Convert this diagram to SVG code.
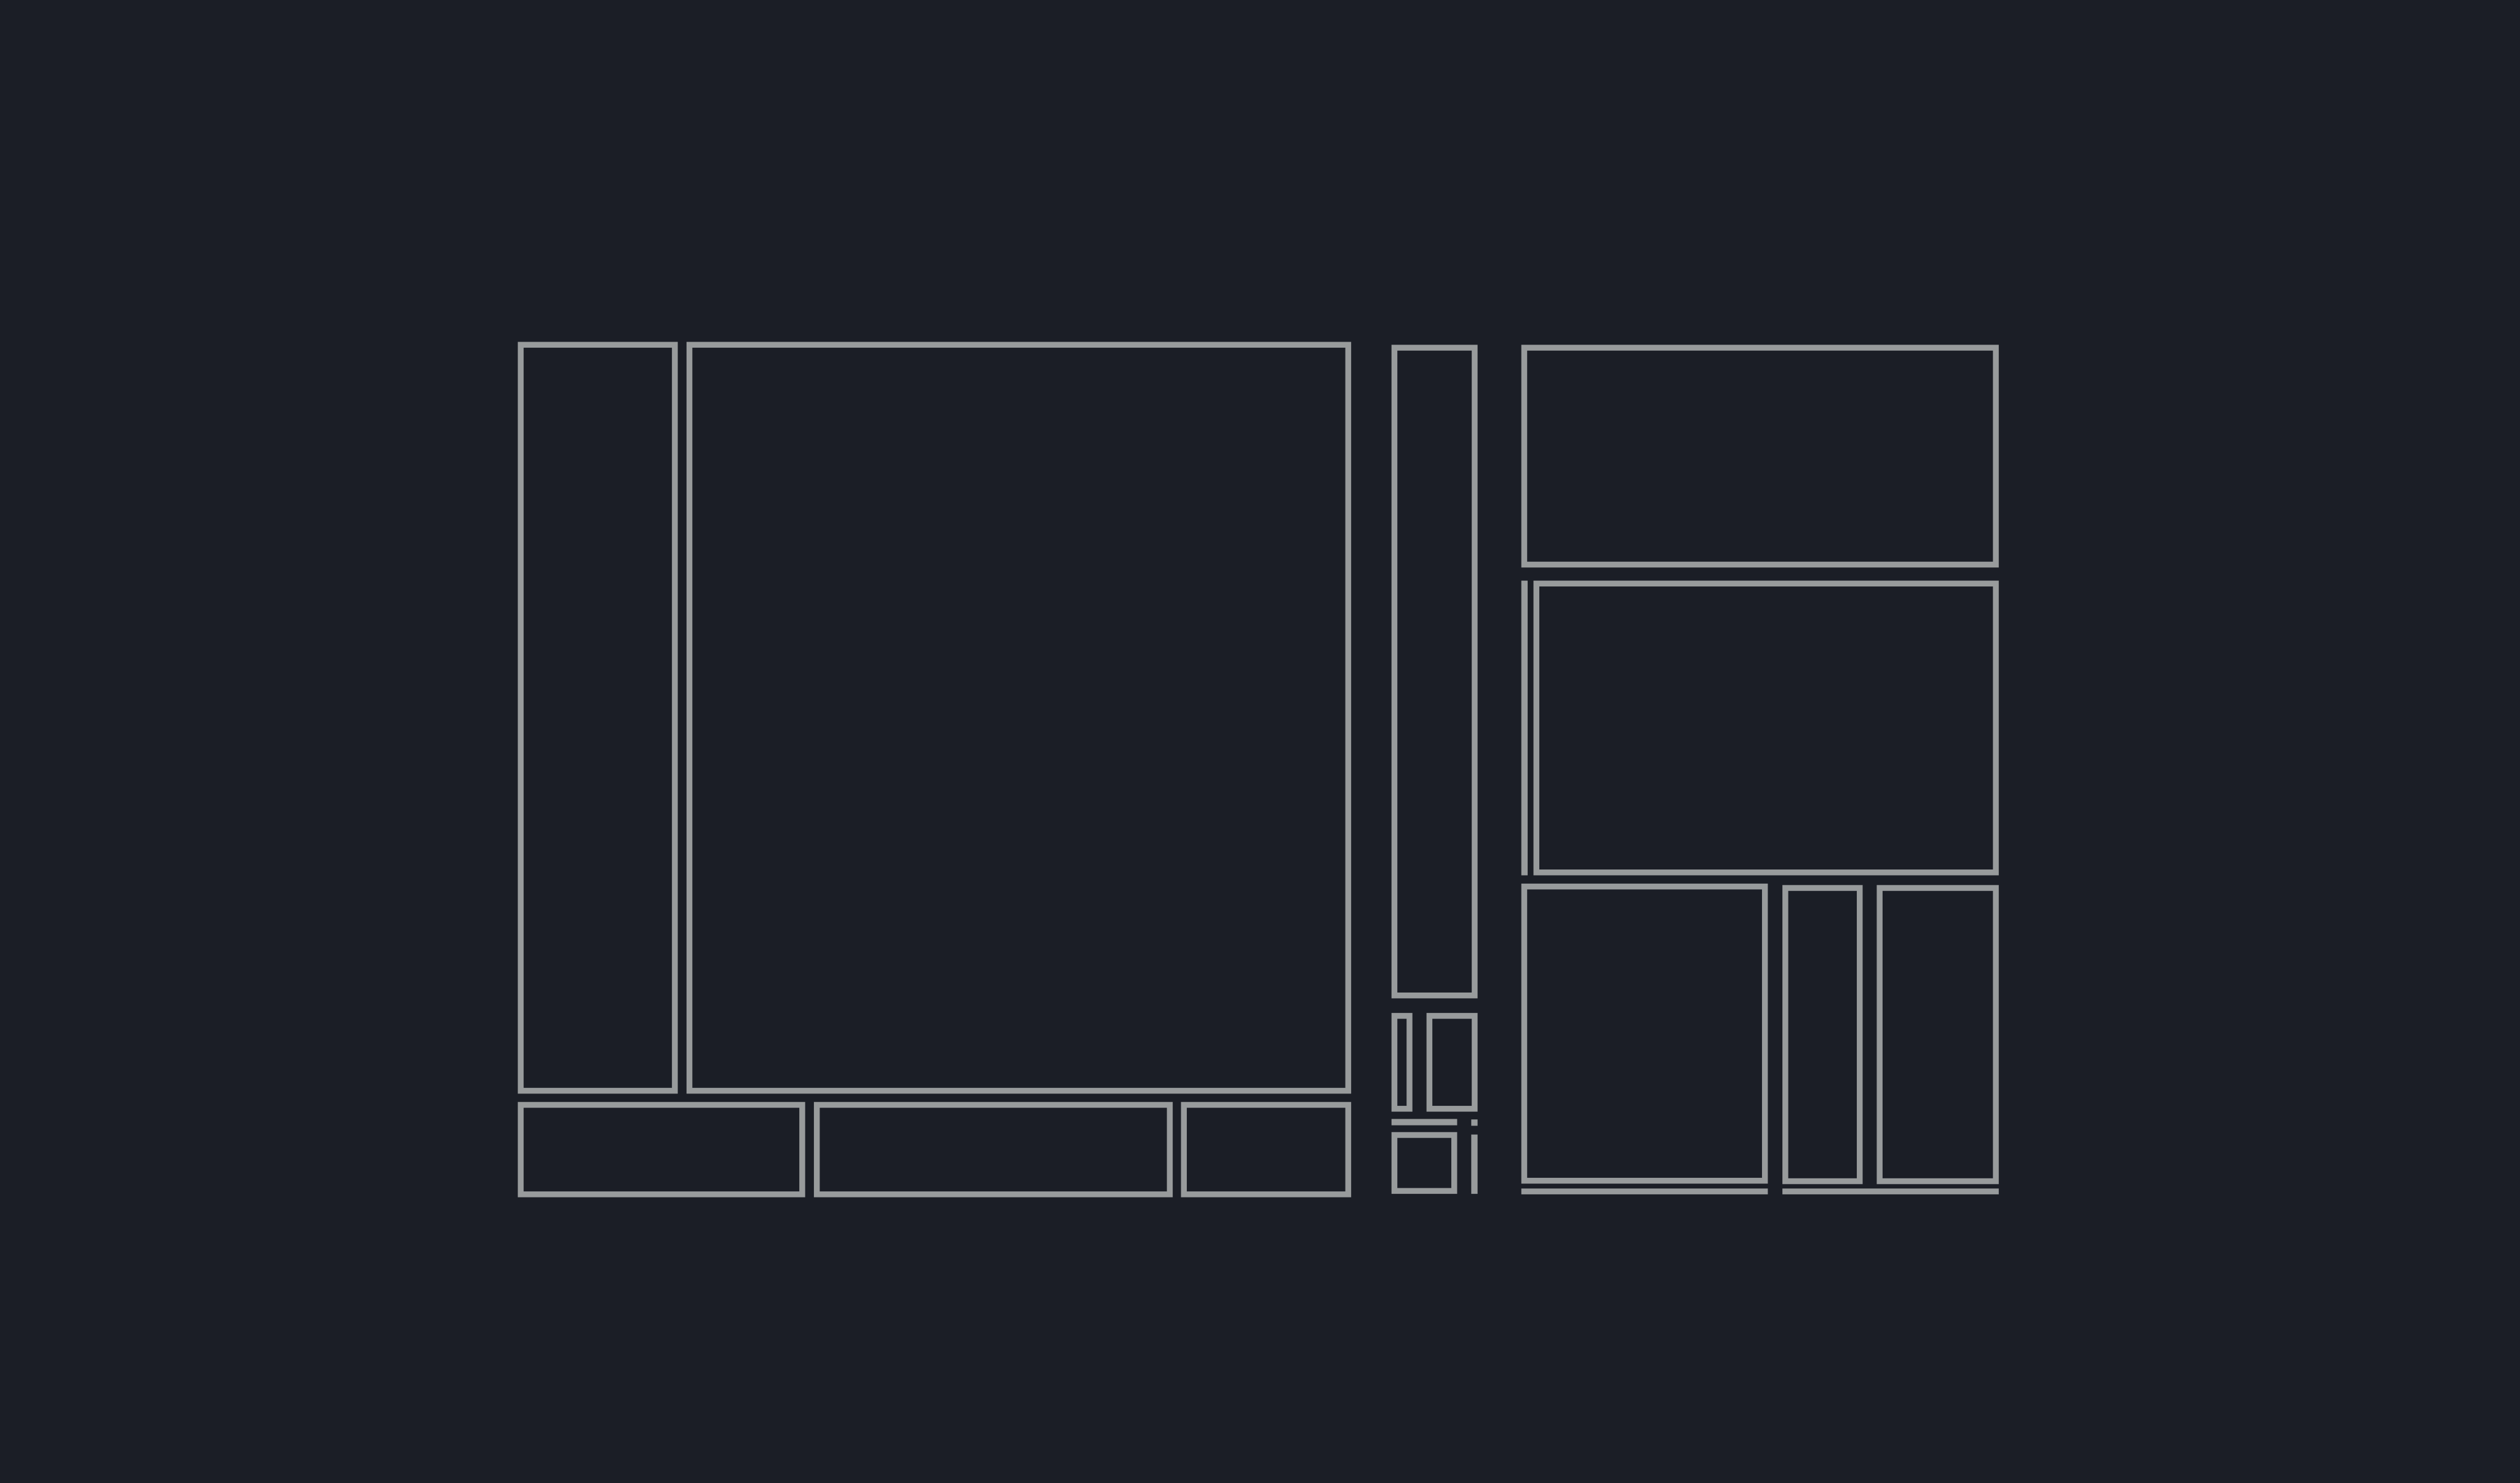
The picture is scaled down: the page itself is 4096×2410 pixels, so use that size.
<svg xmlns="http://www.w3.org/2000/svg" width="4096" height="2410" viewBox="0 0 4096 2410">
<style>
.box{fill:none;stroke:#989b9c;stroke-width:12}
.bar{fill:#989b9c}
</style>
<rect x="0" y="0" width="4096" height="2410" fill="#1b1e26"/>
<g transform="scale(0.79027)">
<g id="A"><rect class="box" x="1071" y="709" width="317" height="1534"/></g>
<g id="B"><rect class="box" x="1418" y="709" width="1355" height="1534"/></g>
<g id="C1"><rect class="box" x="1071" y="2272" width="579" height="184"/></g>
<g id="C2"><rect class="box" x="1680" y="2272" width="726" height="184"/></g>
<g id="C3"><rect class="box" x="2435" y="2272" width="338" height="184"/></g>
<g id="M1"><rect class="box" x="2868" y="715" width="165" height="1332"/></g>
<g id="S1"><rect class="box" x="2868" y="2089" width="31" height="191"/></g>
<g id="S2"><rect class="box" x="2940" y="2089" width="93" height="191"/></g>
<g id="BarH"><rect class="bar" x="2862" y="2301" width="135" height="13"/></g>
<g id="Dot"><rect class="bar" x="3026" y="2302" width="13" height="13"/></g>
<g id="S3"><rect class="box" x="2868" y="2334" width="123" height="115"/></g>
<g id="BarV"><rect class="bar" x="3026" y="2333" width="13" height="122"/></g>
<g id="R1"><rect class="box" x="3135" y="715" width="970" height="446"/></g>
<g id="BarV2"><rect class="bar" x="3129" y="1194" width="13" height="606"/></g>
<g id="R2"><rect class="box" x="3160" y="1200" width="945" height="594"/></g>
<g id="L1"><rect class="box" x="3135" y="1823" width="495" height="605"/></g>
<g id="L2"><rect class="box" x="3672" y="1826" width="153" height="603"/></g>
<g id="L3"><rect class="box" x="3866" y="1826" width="239" height="603"/></g>
<g id="Bar1"><rect class="bar" x="3129" y="2444" width="507" height="12"/></g>
<g id="Bar2"><rect class="bar" x="3666" y="2444" width="445" height="12"/></g>
</g>
<g id="connectors"></g>
</svg>
